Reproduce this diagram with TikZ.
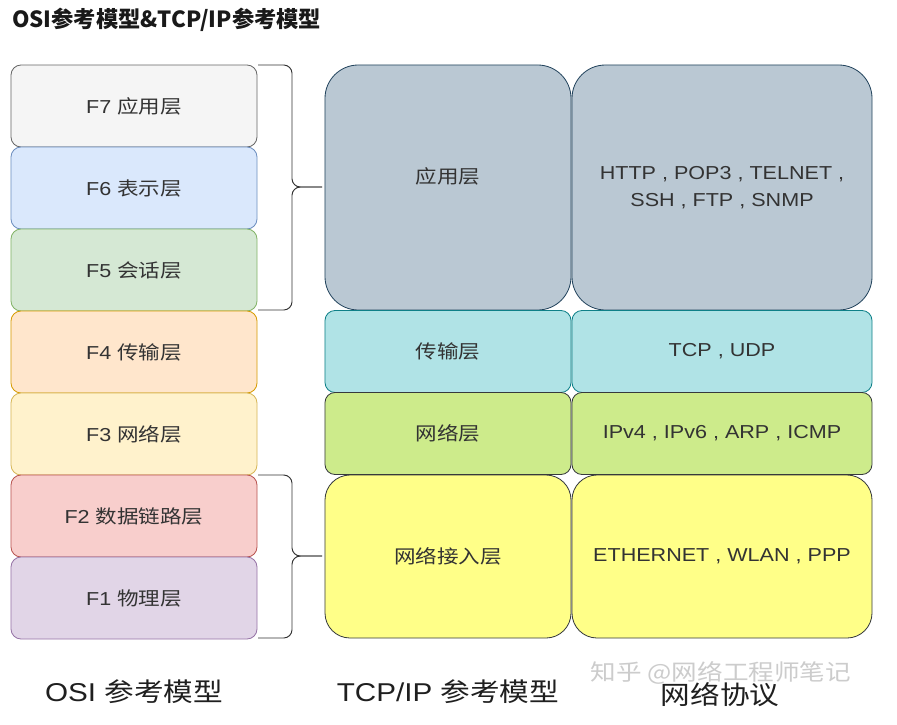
\documentclass[tikz,border=0pt]{standalone}
\usepackage{fontspec}
\setmainfont{Liberation Sans}[FakeStretch=1.15]
\newfontfamily\cjk{Noto Sans CJK SC}[FakeStretch=1.15]
\newfontfamily\cjktitle{Noto Sans CJK SC}
\usepackage{tikz}

\definecolor{txtgray}{HTML}{333333}
\definecolor{linegray}{HTML}{333333}

\begin{document}
\begin{tikzpicture}[
        x=0.03cm, y=-0.03cm, % 1 unit = 1 px
        layer/.style={draw, rounded corners=0.3cm, line width=0.7pt, minimum width=7.38cm, minimum height=2.46cm, inner sep=0pt, align=center, text=txtgray, font=\fontsize{16}{23}\selectfont},
        tallbox/.style={minimum height=7.35cm, rounded corners=1cm},
        linkbox/.style={minimum height=4.89cm, rounded corners=0.75cm},
        wide/.style={minimum width=9cm},
        brace/.style={draw=linegray, line width=0.8pt, rounded corners=0.25cm},
        caption/.style={font=\fontsize{22}{24}\selectfont, text=black!88}
    ]
    \useasboundingbox[fill=white] (0,0) rectangle (897,724);

    % ==========================================
    % Title
    % ==========================================
    \node[anchor=west, text=black!90, font=\fontsize{19}{21}\selectfont\cjktitle\bfseries] (title) at (8,20) {OSI参考模型\&TCP/IP参考模型};

    % ==========================================
    % 1. OSI column (x=134)
    % ==========================================
    \node[layer, fill={rgb,255:red,245;green,245;blue,245}, draw={rgb,255:red,102;green,102;blue,102}] (f7) at (134,106) {F7 {\cjk 应用层}};
    \node[layer, fill={rgb,255:red,218;green,232;blue,252}, draw={rgb,255:red,108;green,142;blue,191}] (f6) at (134,188) {F6 {\cjk 表示层}};
    \node[layer, fill={rgb,255:red,213;green,232;blue,212}, draw={rgb,255:red,130;green,179;blue,102}] (f5) at (134,270) {F5 {\cjk 会话层}};
    \node[layer, fill={rgb,255:red,255;green,230;blue,204}, draw={rgb,255:red,215;green,155;blue,0}] (f4) at (134,352) {F4 {\cjk 传输层}};
    \node[layer, fill={rgb,255:red,255;green,242;blue,204}, draw={rgb,255:red,214;green,182;blue,86}] (f3) at (134,434) {F3 {\cjk 网络层}};
    \node[layer, fill={rgb,255:red,248;green,206;blue,204}, draw={rgb,255:red,184;green,84;blue,80}] (f2) at (134,516) {F2 {\cjk 数据链路层}};
    \node[layer, fill={rgb,255:red,225;green,213;blue,231}, draw={rgb,255:red,150;green,115;blue,166}] (f1) at (134,598) {F1 {\cjk 物理层}};

    % 括号
    \draw[brace] (258,65) -| (292,187) -- (322,187);
    \draw[brace] (258,310) -| (292,187) -- (322,187);
    \draw[brace] (258,475) -| (292,556) -- (322,556);
    \draw[brace] (258,638) -| (292,556) -- (322,556);

    % ==========================================
    % 2. TCP/IP column (x=448)
    % ==========================================
    \node[layer, tallbox, fill={rgb,255:red,186;green,200;blue,211}, draw={rgb,255:red,35;green,68;blue,93}] (app) at (448,187.5) {\raisebox{0.72cm}{\cjk 应用层}};
    \node[layer, fill={rgb,255:red,176;green,227;blue,230}, draw={rgb,255:red,14;green,128;blue,136}] (trans) at (448,351.5) {\cjk 传输层};
    \node[layer, fill={rgb,255:red,205;green,235;blue,139}, draw={rgb,255:red,54;green,57;blue,61}] (net) at (448,433.5) {\cjk 网络层};
    \node[layer, linkbox, fill={rgb,255:red,255;green,255;blue,136}, draw={rgb,255:red,54;green,57;blue,61}] (link) at (448,556.5) {\cjk 网络接入层};

    % ==========================================
    % 3. Protocols (x=722)
    % ==========================================
    \node[layer, wide, tallbox, fill={rgb,255:red,186;green,200;blue,211}, draw={rgb,255:red,35;green,68;blue,93}] (appproto) at (722,187.5) {HTTP , POP3 , TELNET ,\\SSH , FTP , SNMP};
    \node[layer, wide, fill={rgb,255:red,176;green,227;blue,230}, draw={rgb,255:red,14;green,128;blue,136}] (transproto) at (722,351.5) {TCP , UDP};
    \node[layer, wide, fill={rgb,255:red,205;green,235;blue,139}, draw={rgb,255:red,54;green,57;blue,61}] (netproto) at (722,433.5) {IPv4 , IPv6 , ARP , ICMP};
    \node[layer, wide, linkbox, fill={rgb,255:red,255;green,255;blue,136}, draw={rgb,255:red,54;green,57;blue,61}] (linkproto) at (722,556.5) {ETHERNET , WLAN , PPP};

    % ==========================================
    % Captions
    % ==========================================
    \node[text=black!20, font=\fontsize{19}{20}\selectfont\cjk] (mark) at (721,673) {知乎 @网络工程师笔记};
    \node[caption] (osicap) at (134,692) {OSI {\cjk 参考模型}};
    \node[caption] (tcpcap) at (448,692) {TCP/IP {\cjk 参考模型}};
    \node[caption] (protocap) at (720,695) {\cjk 网络协议};

\end{tikzpicture}
\end{document}
